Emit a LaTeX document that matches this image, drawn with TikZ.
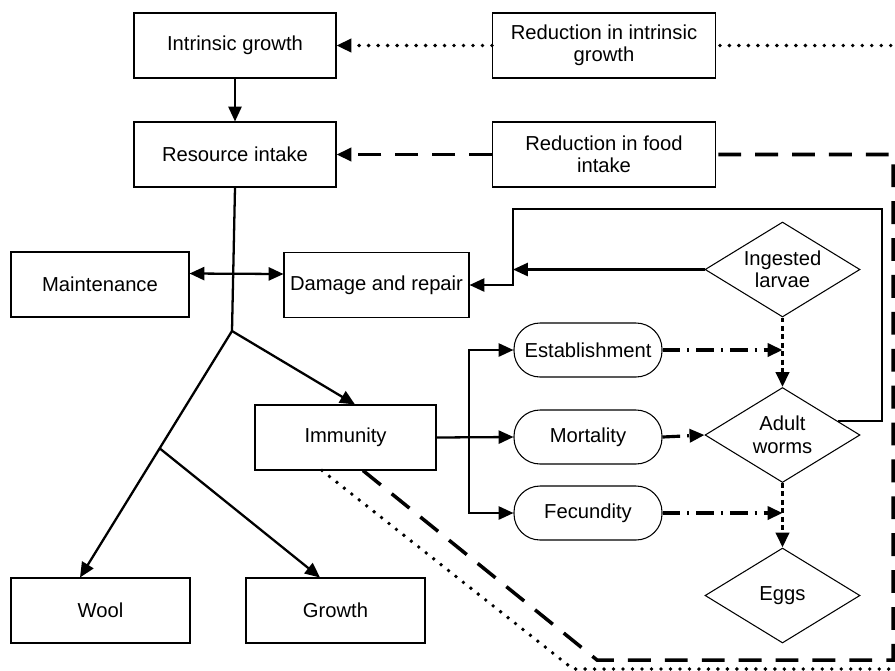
\documentclass[tikz,border=0pt]{standalone}
\usepackage{fontspec}
\setmainfont{Liberation Sans}
\usetikzlibrary{arrows.meta,shapes.geometric,calc}

\tikzset{
    box/.style={draw, line width=0.6pt, minimum width=3.6cm, minimum height=1.3cm, inner sep=2pt, align=center},
    rbox/.style={draw, line width=0.6pt, rounded corners=0.52cm, minimum width=2.96cm, minimum height=1.08cm},
    dbox/.style={draw, line width=0.6pt, diamond, aspect=1.63, minimum width=3.1cm, minimum height=1.9cm, inner sep=0pt, align=center},
    tip/.style={-{Triangle[length=8.5pt,width=7.5pt]}},
    link/.style={line width=1.3pt},
    arr/.style={link, tip},
    dashlink/.style={line width=2pt, dash pattern=on 13pt off 8pt},
    dotlink/.style={line width=2.2pt, line cap=round, dash pattern=on 0pt off 5.4pt},
    dashdot/.style={line width=1.8pt, dash pattern=on 10pt off 4pt on 1.2pt off 4pt, tip},
    shortdash/.style={line width=1.9pt, dash pattern=on 2.8pt off 2pt, tip},
}

\begin{document}
\begin{tikzpicture}[x=0.02cm, y=-0.02cm, font=\fontsize{11.5}{12.8}\selectfont]
    \useasboundingbox (0,0) rectangle (895,670);
    \clip (0,0) rectangle (895,670);

    % host side
    \node[box, minimum width=4.04cm] (intr) at (235,45.5) {Intrinsic growth};
    \node[box, minimum width=4.04cm] (res) at (235,154.5) {Resource intake};
    \node[box, minimum width=4.46cm] (redint) at (604,45.5) {Reduction in intrinsic\\growth};
    \node[box, minimum width=4.46cm] (redfood) at (604,154.5) {Reduction in food\\intake};
    \node[box, minimum width=3.56cm] (maint) at (100,284.5) {Maintenance};
    \node[box, minimum width=3.7cm] (dam) at (376.5,285) {Damage and repair};
    \node[box, minimum width=3.62cm] (imm) at (345.5,437.5) {Immunity};
    \node[box, minimum width=3.58cm] (wool) at (100.5,610.5) {Wool};
    \node[box, minimum width=3.58cm] (growth) at (335.5,610.5) {Growth};

    % parasite side
    \node[rbox] (est) at (588,350) {Establishment};
    \node[rbox] (mort) at (588,437) {Mortality};
    \node[rbox] (fec) at (588,513) {Fecundity};
    \node[dbox] (ing) at (782.5,269.5) {Ingested\\larvae};
    \node[dbox] (adult) at (782.5,435) {Adult\\worms};
    \node[dbox] (eggs) at (782.5,595.5) {Eggs};

    \coordinate (split) at (232,331);
    \coordinate (bus) at (469,437);
    \coordinate (lpne) at (882,209);
    \coordinate (lpnw) at (513,209);
    \coordinate (dsh1) at (597,660);
    \coordinate (dsh2) at (893,660);
    \coordinate (dot1) at (573,669);
    \coordinate (dot2) at (910,669);

    % allocation
    \draw[arr] (intr) -- (res);
    \draw[link] (res.south) -- (split);
    \draw[arr] (split) -- ([xshift=0.19cm]imm.north);
    \draw[arr] (split) -- ([xshift=-0.41cm]wool.north);
    \coordinate (split2) at ($(split)!0.476!([xshift=-0.41cm]wool.north)$);
    \draw[arr] (split2) -- ([xshift=-0.31cm]growth.north);
    \draw[link, {Triangle[length=8.5pt,width=7.5pt]}-{Triangle[length=8.5pt,width=7.5pt]}] ([yshift=0.22cm]maint.east) -- ([yshift=0.22cm]dam.west);

    % immunity
    \draw[arr] (imm.east) -- (mort.west);
    \draw[arr] (bus) |- (est.west);
    \draw[arr] (bus) |- (fec.west);
    \draw[dashdot] (est.east) -- (est -| adult);
    \draw[dashdot] (mort.east) -- (adult.west);
    \draw[dashdot] (fec.east) -- (fec -| adult);
    \draw[shortdash] (ing) -- (adult);
    \draw[shortdash] (adult) -- (eggs);

    % damage
    \draw[arr] (ing.west) -- (ing.west -| lpnw);
    \draw[arr] (adult.14) -| (lpne) -- (lpnw) |- (dam.east);

    % feedback loops
    \draw[dashlink] ([xshift=0.35cm]imm.south) -- (dsh1) -- (dsh2) |- (redfood.east);
    \draw[dashlink, tip] (redfood.west) -- (res.east);
    \draw[dotlink] ([xshift=-0.47cm]imm.south) -- (dot1) -- (dot2) |- (redint.east);
    \draw[dotlink, tip] (redint.west) -- (intr.east);
\end{tikzpicture}
\end{document}
